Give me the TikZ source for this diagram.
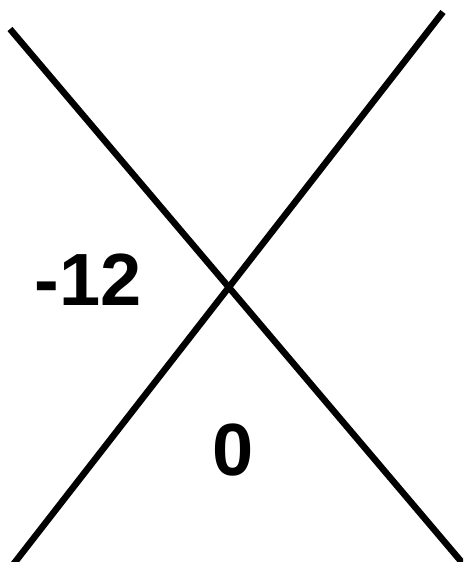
\documentclass[tikz,border=0pt]{standalone}
\usepackage{fontspec}
\setmainfont{Liberation Sans}
\begin{document}
\begin{tikzpicture}[x=1pt,y=-1pt,
  crossline/.style={line width=6.5pt,black},
  lbl/.style={font=\fontsize{74}{80}\selectfont\bfseries,inner sep=0pt}]
\useasboundingbox (0,0) rectangle (463,562);
\clip (0,0) rectangle (463,562);
\coordinate (a1) at (10,29);
\coordinate (a2) at (465,566);
\coordinate (b1) at (443,12);
\coordinate (b2) at (12,566);
\draw[crossline] (a1) -- (a2);
\draw[crossline] (b1) -- (b2);
\node[lbl] (m12) at (88,280) {-12};
\node[lbl] (z) at (233,450) {0};
\end{tikzpicture}
\end{document}
